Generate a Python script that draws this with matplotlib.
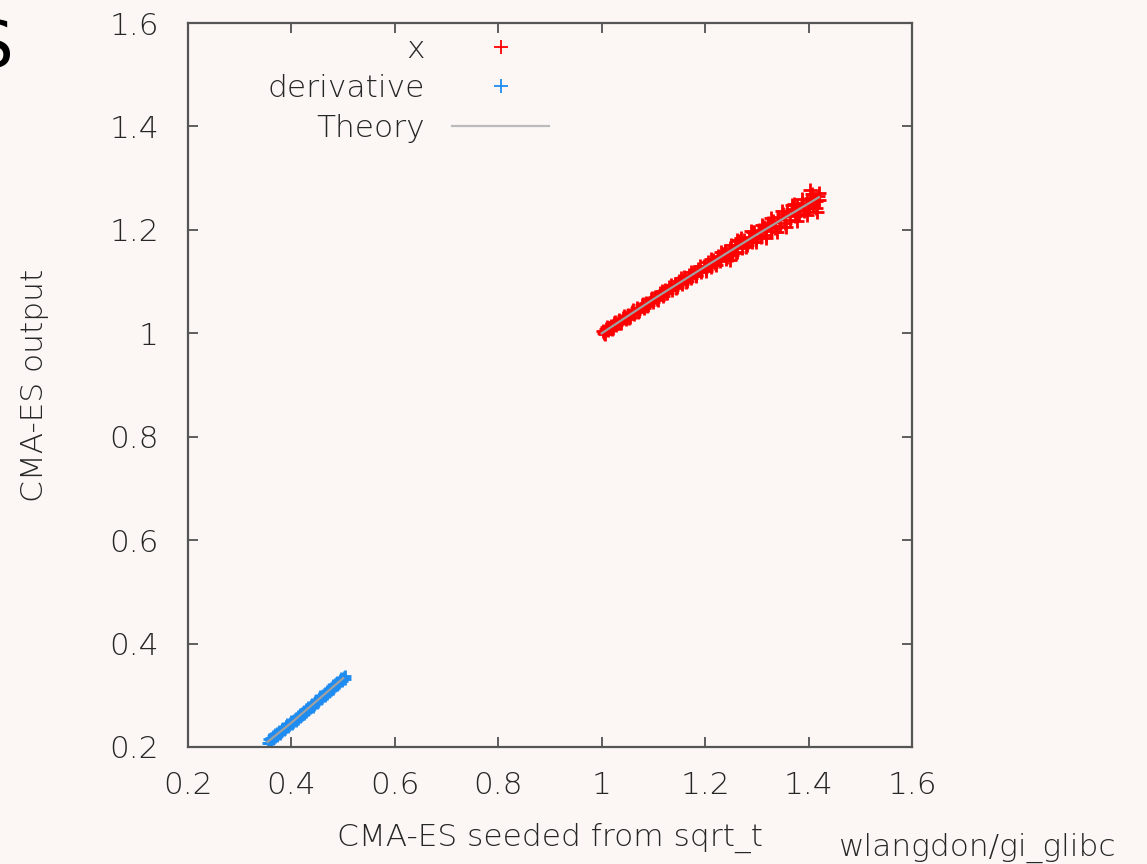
import matplotlib
matplotlib.use("Agg")
import matplotlib.pyplot as plt

# values
red_x = [1.002, 1.006, 1.009, 1.013, 1.017, 1.021, 1.024, 1.028, 1.033, 1.037,
         1.041, 1.046, 1.050, 1.055, 1.059, 1.063, 1.068, 1.072, 1.077, 1.081,
         1.086, 1.090, 1.095, 1.099, 1.104, 1.108, 1.113, 1.118, 1.122, 1.127,
         1.131, 1.136, 1.141, 1.145, 1.150, 1.155, 1.159, 1.164, 1.168, 1.173,
         1.178, 1.183, 1.187, 1.192, 1.197, 1.201, 1.206, 1.211, 1.215, 1.220,
         1.225, 1.229, 1.234, 1.238, 1.243, 1.248, 1.252, 1.257, 1.262, 1.266,
         1.271, 1.276, 1.280, 1.285, 1.290, 1.294, 1.299, 1.304, 1.308, 1.313,
         1.318, 1.322, 1.327, 1.331, 1.336, 1.341, 1.345, 1.350, 1.355, 1.359,
         1.364, 1.368, 1.373, 1.378, 1.382, 1.387, 1.391, 1.396, 1.400, 1.405,
         1.409, 1.414, 1.418, 1.421, 1.262, 1.293, 1.403, 1.416, 1.248, 1.372,
         1.004, 1.011, 1.019, 1.026, 1.035, 1.043, 1.052, 1.061, 1.070, 1.079,
         1.088, 1.097, 1.106, 1.116, 1.125, 1.134, 1.144, 1.153, 1.163, 1.172,
         1.182, 1.191, 1.201, 1.211, 1.221, 1.231, 1.240, 1.250, 1.260, 1.270,
         1.279, 1.289, 1.299, 1.309, 1.318, 1.328, 1.338, 1.348, 1.357, 1.367,
         1.377, 1.387, 1.396, 1.406, 1.414, 1.420]
red_y = [1.004, 0.998, 1.009, 1.006, 1.014, 1.011, 1.019, 1.016, 1.025, 1.020,
         1.030, 1.027, 1.036, 1.032, 1.042, 1.038, 1.048, 1.043, 1.054, 1.049,
         1.059, 1.055, 1.066, 1.061, 1.071, 1.064, 1.077, 1.072, 1.084, 1.078,
         1.089, 1.083, 1.095, 1.090, 1.101, 1.095, 1.108, 1.101, 1.113, 1.107,
         1.119, 1.113, 1.125, 1.118, 1.131, 1.124, 1.137, 1.128, 1.142, 1.135,
         1.150, 1.140, 1.154, 1.160, 1.147, 1.165, 1.152, 1.170, 1.158, 1.178,
         1.165, 1.181, 1.170, 1.187, 1.176, 1.196, 1.182, 1.200, 1.187, 1.206,
         1.190, 1.213, 1.197, 1.218, 1.203, 1.225, 1.208, 1.230, 1.214, 1.236,
         1.219, 1.241, 1.226, 1.247, 1.231, 1.252, 1.236, 1.258, 1.242, 1.262,
         1.248, 1.256, 1.265, 1.258, 1.180, 1.196, 1.277, 1.235, 1.142, 1.250,
         1.000, 1.012, 1.008, 1.022, 1.019, 1.033, 1.030, 1.045, 1.042, 1.057,
         1.053, 1.069, 1.066, 1.081, 1.077, 1.093, 1.088, 1.106, 1.099, 1.118,
         1.111, 1.131, 1.121, 1.144, 1.133, 1.157, 1.144, 1.170, 1.155, 1.184,
         1.166, 1.197, 1.176, 1.210, 1.185, 1.222, 1.196, 1.236, 1.205, 1.248,
         1.218, 1.260, 1.229, 1.270, 1.242, 1.272]

blue_x = [0.354, 0.357, 0.361, 0.365, 0.369, 0.373, 0.377, 0.381, 0.385, 0.389,
          0.393, 0.397, 0.401, 0.405, 0.409, 0.413, 0.417, 0.421, 0.425, 0.429,
          0.433, 0.437, 0.441, 0.445, 0.449, 0.453, 0.457, 0.461, 0.465, 0.469,
          0.473, 0.477, 0.481, 0.485, 0.489, 0.493, 0.497, 0.501, 0.503,
          0.356, 0.360, 0.364, 0.368, 0.372, 0.376, 0.380, 0.384, 0.388, 0.392,
          0.396, 0.400, 0.404, 0.408, 0.412, 0.416, 0.420, 0.424, 0.428, 0.432,
          0.436, 0.440, 0.444, 0.448, 0.452, 0.456, 0.460, 0.464, 0.468, 0.472,
          0.476, 0.480, 0.484, 0.488, 0.492, 0.496, 0.500, 0.504]
blue_y = [0.207, 0.215, 0.214, 0.221, 0.219, 0.227, 0.226, 0.234, 0.232, 0.240,
          0.238, 0.246, 0.245, 0.253, 0.251, 0.260, 0.258, 0.266, 0.264, 0.273,
          0.271, 0.280, 0.278, 0.287, 0.285, 0.294, 0.292, 0.301, 0.299, 0.308,
          0.306, 0.315, 0.313, 0.322, 0.320, 0.329, 0.327, 0.335, 0.331,
          0.208, 0.218, 0.216, 0.225, 0.222, 0.231, 0.229, 0.237, 0.236, 0.244,
          0.242, 0.251, 0.249, 0.257, 0.255, 0.264, 0.262, 0.270, 0.268, 0.277,
          0.275, 0.284, 0.282, 0.291, 0.289, 0.298, 0.296, 0.305, 0.303, 0.312,
          0.310, 0.319, 0.317, 0.326, 0.324, 0.333, 0.331, 0.337]

theory_x = [1.0, 1.1, 1.2, 1.3, 1.42]
theory_y = [1.0, 1.066, 1.129, 1.191, 1.263]
theory_dx = [0.354, 0.40, 0.45, 0.50]
theory_dy = [0.210, 0.247, 0.290, 0.333]

ticks = [0.2, 0.4, 0.6, 0.8, 1.0, 1.2, 1.4, 1.6]
tick_labels = ['0.2', '0.4', '0.6', '0.8', '1', '1.2', '1.4', '1.6']

bg = '#fcf7f4'
txt = '#262626'
fs = 22.5
plt.rcParams['font.family'] = 'DejaVu Sans'
plt.rcParams['font.weight'] = 'light'
plt.rcParams['axes.labelweight'] = 'light'

fig = plt.figure(figsize=(11.47, 8.64), dpi=100, facecolor=bg)
ax = fig.add_axes([188 / 1147, 117 / 864, 724 / 1147, 724 / 864], facecolor=bg)

ax.plot(red_x, red_y, '+', color='#ff0000', ms=10, mew=2.0, label='x')
ax.plot(blue_x, blue_y, '+', color='#1e8cf0', ms=9, mew=2.0, label='derivative')
ax.plot(theory_x, theory_y, '-', color='#a0a0a0', lw=1.6, label='Theory')
ax.plot(theory_dx, theory_dy, '-', color='#a0a0a0', lw=1.6)

ax.set_xlim(0.2, 1.6)
ax.set_ylim(0.2, 1.6)
ax.set_xticks(ticks)
ax.set_xticklabels(tick_labels)
ax.set_yticks(ticks)
ax.set_yticklabels(tick_labels)
ax.tick_params(direction='in', length=7, width=1.2, color='#444444',
               top=True, right=True, labelsize=fs, labelcolor=txt)
ax.tick_params(axis='x', pad=17)
ax.tick_params(axis='y', pad=21)
for s in ax.spines.values():
    s.set_color('#555555')
    s.set_linewidth(1.6)

ax.set_xlabel('CMA-ES seeded from sqrt_t', fontsize=fs, color=txt, va='center')
ax.xaxis.set_label_coords(0.5, (747 - 838) / 724)
ax.set_ylabel('CMA-ES output', fontsize=fs, color=txt, va='center')
ax.yaxis.set_label_coords((35 - 188) / 724, 0.5)

# legend: gnuplot style, label on the left, sample on the right
leg = ax.legend(loc='upper right', bbox_to_anchor=((549 - 188) / 724, (747 - 35) / 724),
                frameon=False, markerfirst=False, alignment='right', fontsize=fs,
                handlelength=3.1, handletextpad=0.87, borderpad=0, borderaxespad=0,
                labelspacing=0.33)
for t in leg.get_texts():
    t.set_color(txt)
for h in leg.get_lines()[:2]:
    h.set_markeredgewidth(1.3)
    h.set_markersize(10)
leg.get_lines()[2].set_color('#bbbbbb')

fig.text(838 / 1147, 1 - 848 / 864, 'wlangdon/gi_glibc', fontsize=fs, color=txt,
         ha='left', va='center')
# clipped heading letter at the top-left edge, as in the reference
fig.text(-27 / 1147, 1 - 49 / 864, 'S', fontsize=46, color='black',
         fontweight='normal', ha='left', va='center')

fig.savefig('out.png', dpi=100, facecolor=bg)
